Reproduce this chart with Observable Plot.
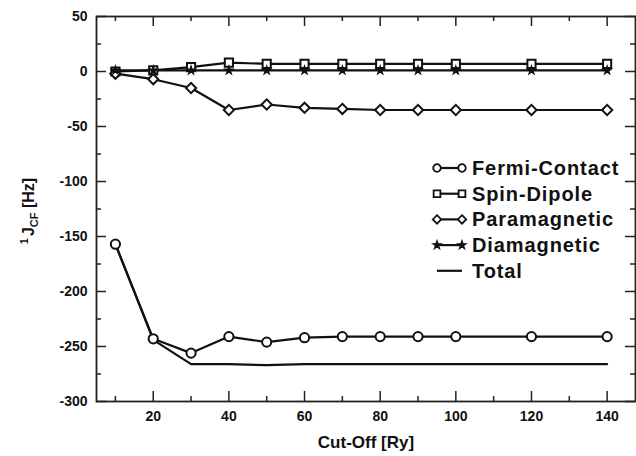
<!DOCTYPE html>
<html>
<head>
<meta charset="utf-8">
<script src="https://cdn.jsdelivr.net/npm/d3@7"></script>
<script src="https://cdn.jsdelivr.net/npm/@observablehq/plot@0.6"></script>
<style>
  html, body { margin: 0; padding: 0; background: #fff; }
  #wrap { position: relative; width: 636px; height: 456px; font-family: "Liberation Sans", Arial, sans-serif; }
  #legend { position: absolute; left: 425px; top: 153px; }
</style>
</head>
<body>
<div id="wrap"></div>
<script>
// ---- data ----
const cutoff = [10, 20, 30, 40, 50, 60, 70, 80, 90, 100, 120, 140];
const fermiContact = [-157, -243, -256, -241, -246, -242, -241, -241, -241, -241, -241, -241];
const spinDipole   = [0, 1, 4, 8, 7, 7, 7, 7, 7, 7, 7, 7];
const paramagnetic = [-2, -7, -15, -35, -30, -33, -34, -35, -35, -35, -35, -35];
const diamagnetic  = [1, 1, 1, 1, 1, 1, 1, 1, 1, 1, 1, 1];
const total        = [-157, -244, -266, -266, -267, -266, -266, -266, -266, -266, -266, -266];

const seriesNames = ["Fermi-Contact", "Spin-Dipole", "Paramagnetic", "Diamagnetic", "Total"];
const xMajor = [20, 40, 60, 80, 100, 120, 140];
const xMinor = [10, 30, 50, 70, 90, 110, 130];
const yMajor = [50, 0, -50, -100, -150, -200, -250, -300];
const yMinor = [25, -25, -75, -125, -175, -225, -275];
const xLabel = "Cut-Off [Ry]";

// ---- build tidy tables ----
const seriesValues = [fermiContact, spinDipole, paramagnetic, diamagnetic, total];
const symbols = ["circle", "square", "diamond2", "star", null];
const rows = [];
seriesValues.forEach((vals, i) => vals.forEach((v, j) => rows.push({series: seriesNames[i], x: cutoff[j], y: v})));
const marked = rows.filter(d => d.series !== "Total");

const font = "Liberation Sans, Arial, sans-serif";
const W = 636, H = 456, mL = 96, mR = 1, mT = 16, mB = 55;
const plotW = W - mL - mR, plotH = H - mT - mB;
const ink = "#111";
const tk = {stroke: "#222", strokeWidth: 1.5};
const majorLen = 10, minorLen = 5;

const plot = Plot.plot({
  width: W,
  height: H,
  marginLeft: mL,
  marginRight: mR,
  marginTop: mT,
  marginBottom: mB,
  style: {fontFamily: font, fontSize: "14px", fontWeight: "bold", color: ink, background: "#fff"},
  x: {domain: [5, 147.5], label: null},
  y: {domain: [-300, 50], label: null},
  marks: [
    // inward ticks on all four sides
    Plot.tickX(xMajor, {x: d => d, insetTop: plotH - majorLen, ...tk}),
    Plot.tickX(xMinor, {x: d => d, insetTop: plotH - minorLen, ...tk}),
    Plot.tickX(xMajor, {x: d => d, insetBottom: plotH - majorLen, ...tk}),
    Plot.tickX(xMinor, {x: d => d, insetBottom: plotH - minorLen, ...tk}),
    Plot.tickY(yMajor, {y: d => d, insetRight: plotW - majorLen, ...tk}),
    Plot.tickY(yMinor, {y: d => d, insetRight: plotW - minorLen, ...tk}),
    Plot.tickY(yMajor, {y: d => d, insetLeft: plotW - majorLen, ...tk}),
    Plot.tickY(yMinor, {y: d => d, insetLeft: plotW - minorLen, ...tk}),
    // tick labels
    Plot.axisX({anchor: "bottom", ticks: xMajor, tickSize: 0, tickPadding: 10, fontSize: 14, fontWeight: "bold"}),
    Plot.axisY({anchor: "left", ticks: yMajor, tickSize: 0, tickPadding: 9, fontSize: 14, fontWeight: "bold", tickFormat: d => String(d)}),
    Plot.frame({stroke: "#222", strokeWidth: 1.8}),
    Plot.text([xLabel], {frameAnchor: "bottom", dy: 46, fontSize: 17, fontWeight: "bold", letterSpacing: "0.5px"}),
    // lines
    Plot.line(rows, {x: "x", y: "y", z: "series", stroke: ink, strokeWidth: 2.2}),
    // markers
    ...seriesNames.slice(0, 4).map((name, i) => Plot.dot(marked.filter(d => d.series === name), {
      x: "x", y: "y", symbol: () => symbols[i], r: i === 3 ? 2.6 : 4.6,
      stroke: ink, strokeWidth: i === 3 ? 1.2 : 2, fill: i === 3 ? ink : "#fff"
    }))
  ]
});

document.getElementById("wrap").appendChild(plot);

// y-axis label with superscript and subscript
const svg = d3.select(plot);
const yl = svg.append("text")
  .attr("transform", "translate(34,211) rotate(-90)")
  .attr("text-anchor", "middle")
  .attr("font-family", font)
  .attr("font-weight", "bold")
  .attr("font-size", 16)
  .attr("fill", ink);
yl.append("tspan").attr("font-size", 11).attr("dy", -6).text("1");
yl.append("tspan").attr("dy", 6).attr("dx", 2).text("J");
yl.append("tspan").attr("font-size", 11).attr("dy", 4).text("CF");
yl.append("tspan").attr("dy", -4).text(" [Hz]");

// legend
const legend = d3.select("#wrap").append("svg").attr("id", "legend").attr("width", 210).attr("height", 135);
const rowH = 25.7;
seriesNames.forEach((name, i) => {
  const g = legend.append("g").attr("transform", `translate(0,${15 + i * rowH})`);
  if (symbols[i]) {
    g.append("line").attr("x1", 12).attr("x2", 37).attr("stroke", ink).attr("stroke-width", 2.2);
    const sym = {circle: d3.symbolCircle, square: d3.symbolSquare, diamond2: d3.symbolDiamond2, star: d3.symbolStar}[symbols[i]];
    const size = i === 3 ? Math.PI * 2.6 * 2.6 : Math.PI * 3.8 * 3.8;
    [12, 37].forEach(cx => g.append("path")
      .attr("d", d3.symbol(sym, size)())
      .attr("transform", `translate(${cx},0)`)
      .attr("fill", i === 3 ? ink : "#fff").attr("stroke", ink).attr("stroke-width", i === 3 ? 1.2 : 1.8));
  } else {
    g.append("line").attr("x1", 12).attr("x2", 37).attr("stroke", ink).attr("stroke-width", 2.2);
  }
  g.append("text").attr("x", 47).attr("y", 7).attr("font-family", font).attr("font-weight", "bold")
    .attr("font-size", 20).attr("letter-spacing", "0.9px").attr("fill", ink).text(name);
});
</script>
</body>
</html>
